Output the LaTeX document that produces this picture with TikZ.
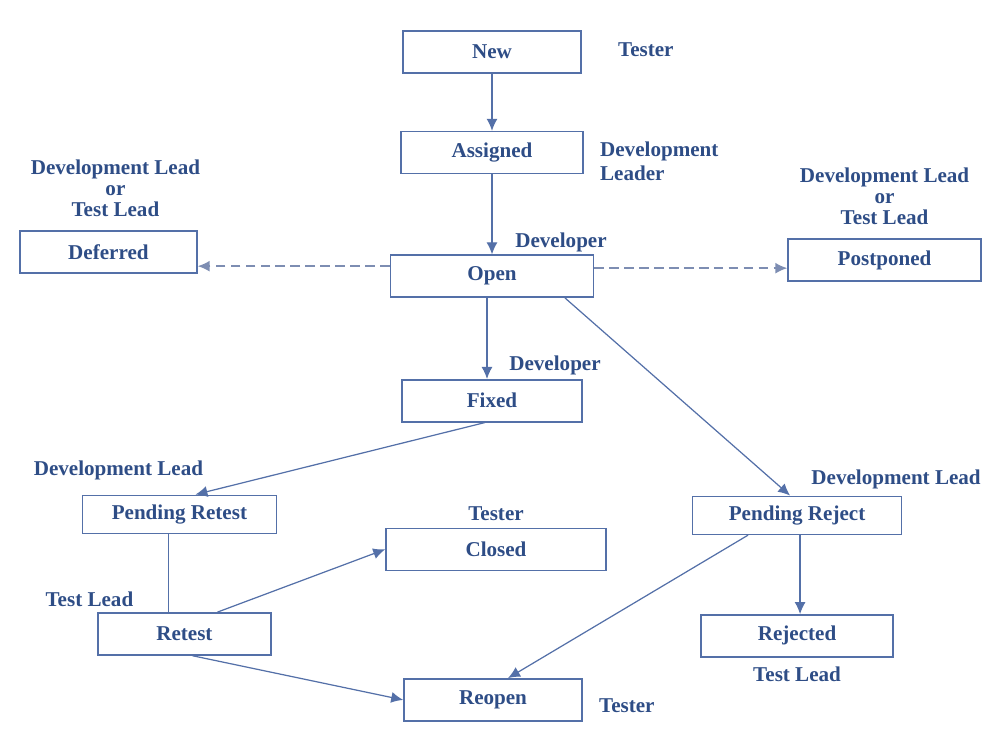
\documentclass[tikz,border=0pt]{standalone}
\usepackage{fontspec}
\setmainfont{Liberation Serif}
\usetikzlibrary{positioning, arrows.meta}

\definecolor{stateblue}{HTML}{2E4D86}
\definecolor{lineblue}{HTML}{5470A8}
\definecolor{dashblue}{HTML}{7D8DB2}

\tikzset{
  state/.style={draw=lineblue, line width=0.9pt, text=stateblue,
    font=\bfseries\fontsize{12}{14}\selectfont, minimum height=0.84cm, inner sep=0pt},
  pending/.style={state, minimum height=0.76cm},
  role/.style={text=stateblue, font=\bfseries\fontsize{12}{12}\selectfont,
    inner sep=0pt, align=center},
  flow/.style={draw=lineblue, line width=0.7pt, -{Latex[length=2.4mm,width=2.2mm]}},
  hold/.style={flow, draw=dashblue, line width=0.9pt, dash pattern=on 5.5pt off 3pt},
}

\begin{document}
\begin{tikzpicture}
  \useasboundingbox (0,0) rectangle (19.76,-14.88);
  % states
  \node [state, minimum width=3.56cm] (new) at (9.84,-1.04) {New};
  \node [state, minimum width=3.64cm, below=1.14cm of new] (assigned) {Assigned};
  \node [state, minimum width=4.06cm, below=1.6cm of assigned] (open) {Open};
  \node [state, minimum width=3.54cm, left=3.84cm of open, yshift=0.48cm] (deferred) {Deferred};
  \node [state, minimum width=3.86cm, right=3.86cm of open, yshift=0.32cm] (postponed) {Postponed};
  \node [state, minimum width=3.6cm, below=1.62cm of open] (fixed) {Fixed};
  \node [pending, minimum width=3.88cm, below left=1.44cm and 2.48cm of fixed] (pendretest) {Pending Retest};
  \node [state, minimum width=3.46cm, below=1.56cm of pendretest, xshift=0.1cm] (retest) {Retest};
  \node [state, minimum width=4.4cm, right=2.16cm of pendretest, yshift=-0.7cm] (closed) {Closed};
  \node [state, minimum width=3.56cm, below=2.14cm of closed, xshift=-0.06cm] (reopen) {Reopen};
  \node [pending, minimum width=4.18cm, right=1.7cm of closed, yshift=0.68cm] (pendreject) {Pending Reject};
  \node [state, minimum width=3.84cm, below=1.58cm of pendreject] (rejected) {Rejected};

  % who moves the bug
  \node [role, right=0.72cm of new, yshift=0.04cm] (r-new) {Tester};
  \node [role, align=left, right=0.32cm of assigned, yshift=-0.18cm] (r-assigned) {Development\\[1.5pt]Leader};
  \node [role, above=0.26cm of deferred, xshift=0.14cm] (r-deferred) {Development Lead\\or\\Test Lead};
  \node [role, above right=0.04cm and 0.46cm of open.north] (r-open) {Developer};
  \node [role, above=0.26cm of postponed] (r-postponed) {Development Lead\\or\\Test Lead};
  \node [role, above right=0.07cm and 0.34cm of fixed.north] (r-fixed) {Developer};
  \node [role, above=0.29cm of pendretest, xshift=-1.22cm] (r-pendretest) {Development Lead};
  \node [role, above=0.12cm of closed] (r-closed) {Tester};
  \node [role, above=0.13cm of pendreject, xshift=1.98cm] (r-pendreject) {Development Lead};
  \node [role, above=0.1cm of retest, xshift=-1.9cm] (r-retest) {Test Lead};
  \node [role, below=0.18cm of rejected] (r-rejected) {Test Lead};
  \node [role, right=0.32cm of reopen, yshift=-0.12cm] (r-reopen) {Tester};

  % transitions
  \draw [flow] (new) -- (assigned);
  \draw [flow] (assigned) -- (open);
  \draw [hold] ([yshift=0.2cm]open.west) -- ([yshift=0.2cm]open.west -| deferred.east);
  \draw [hold] ([yshift=0.16cm]open.east) -- ([yshift=0.16cm]open.east -| postponed.west);
  \draw [flow] ([xshift=-0.1cm]open.south) -- ([xshift=-0.1cm]open.south |- fixed.north);
  \draw [flow] ([xshift=1.46cm]open.south) -- ([xshift=-0.14cm]pendreject.north);
  \draw [flow] ([xshift=-0.14cm]fixed.south) -- ([xshift=0.32cm]pendretest.north);
  \draw [draw=lineblue, line width=0.7pt] ([xshift=-0.22cm]pendretest.south) -- ([xshift=-0.22cm]pendretest.south |- retest.north);
  \draw [flow] ([xshift=0.66cm]retest.north) -- (closed.west);
  \draw [flow] ([xshift=0.16cm]retest.south) -- (reopen.west);
  \draw [flow] ([xshift=-0.98cm]pendreject.south) -- ([xshift=0.3cm]reopen.north);
  \draw [flow] ([xshift=0.06cm]pendreject.south) -- ([xshift=0.06cm]pendreject.south |- rejected.north);
\end{tikzpicture}
\end{document}
